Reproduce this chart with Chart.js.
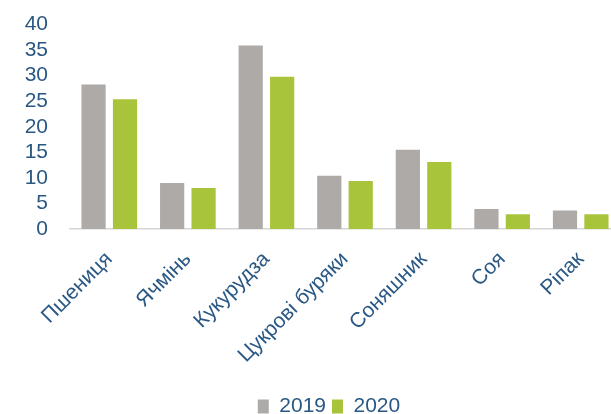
<!DOCTYPE html>
<html>
<head>
<meta charset="utf-8">
<script src="https://cdn.jsdelivr.net/npm/chart.js@4/dist/chart.umd.min.js"></script>
<style>
  html, body { margin: 0; padding: 0; background: #ffffff; overflow: hidden; }
  #wrap { width: 611px; height: 414px; overflow: hidden; }
  canvas { display: block; }
</style>
</head>
<body>
<div id="wrap"><canvas id="chart" width="620" height="414"></canvas></div>
<script>
// Crop harvest, 2019 vs 2020
const categories = ['Пшениця', 'Ячмінь', 'Кукурудза', 'Цукрові буряки', 'Соняшник', 'Соя', 'Ріпак'];
const values2019 = [28.3, 9.0, 35.9, 10.4, 15.5, 3.9, 3.6];
const values2020 = [25.4, 8.0, 29.8, 9.4, 13.1, 2.9, 2.9];
const seriesNames = ['2019', '2020'];
const yTicks = [0, 5, 10, 15, 20, 25, 30, 35, 40];

const textColor = '#2a5884';
const fontFamily = '"Liberation Sans", Arial, sans-serif';

// nudges the legend row a little right and down from its default slot
const legendOffset = {
  id: 'legendOffset',
  afterLayout(chart) {
    const lg = chart.legend;
    if (!lg) return;
    lg.left += 19; lg.right += 19;
    lg.top += 13; lg.bottom += 13;
  }
};

new Chart(document.getElementById('chart'), {
  type: 'bar',
  data: {
    labels: categories,
    datasets: [
      { label: seriesNames[0], data: values2019, backgroundColor: '#aeaaa8' },
      { label: seriesNames[1], data: values2020, backgroundColor: '#a8c43b' }
    ]
  },
  plugins: [legendOffset],
  options: {
    responsive: false,
    animation: false,
    devicePixelRatio: 1,
    layout: { padding: { top: 0, left: 0, right: 0, bottom: 0 } },
    datasets: { bar: { barPercentage: 0.77, categoryPercentage: 0.8 } },
    scales: {
      x: {
        grid: { display: false, drawTicks: false },
        border: { display: true, color: '#d6d6d6', width: 1.5 },
        ticks: {
          color: textColor,
          font: { family: fontFamily, size: 21 },
          minRotation: 45,
          maxRotation: 45,
          padding: 18,
          autoSkip: false
        },
        afterFit(scale) { scale.height = 148; }
      },
      y: {
        min: 0,
        max: 40,
        afterBuildTicks(scale) { scale.ticks = yTicks.map(v => ({ value: v })); },
        grid: { display: false, drawTicks: true, tickLength: 10 },
        border: { display: false },
        ticks: {
          color: textColor,
          font: { family: fontFamily, size: 21 },
          padding: 12,
          autoSkip: false
        },
        afterFit(scale) { scale.width = 70; }
      }
    },
    plugins: {
      legend: {
        position: 'bottom',
        labels: {
          color: textColor,
          font: { family: fontFamily, size: 21 },
          boxWidth: 11,
          boxHeight: 14,
          padding: 6
        }
      },
      tooltip: { enabled: false }
    }
  }
});
</script>
</body>
</html>
